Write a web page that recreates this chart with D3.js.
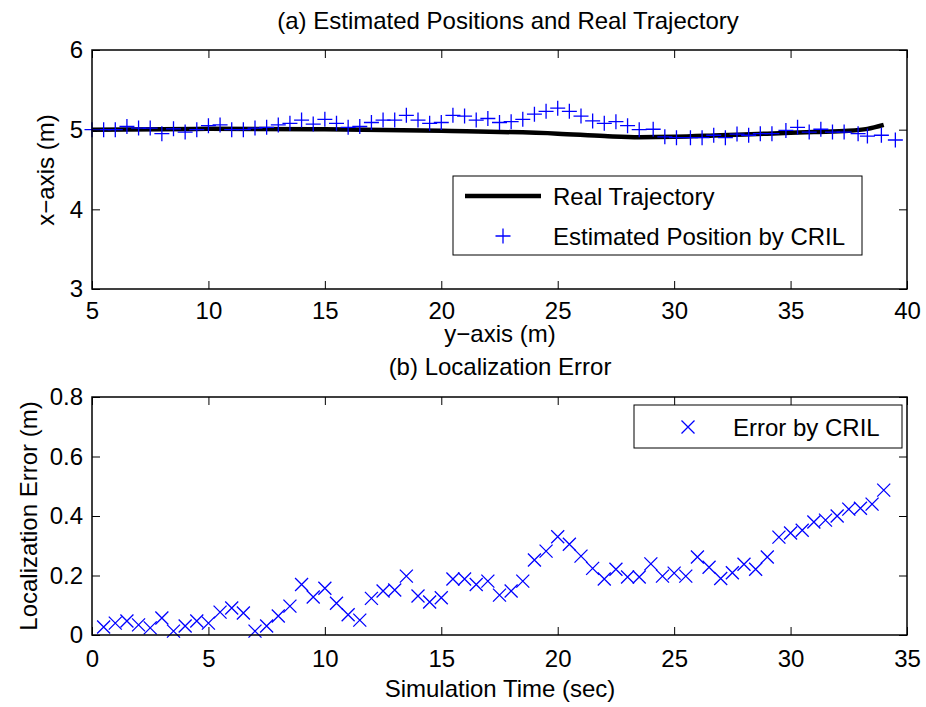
<!DOCTYPE html>
<html><head><meta charset="utf-8">
<script src="https://cdn.jsdelivr.net/npm/d3@7"></script>
<style>body{margin:0;background:#fff}svg{display:block}text{font-family:"Liberation Sans",Arial,sans-serif;fill:#000}</style>
</head><body><svg id="c" width="926" height="707"></svg>
<script>
// Top plot: real trajectory (y-axis position, x-axis position)
const realY = [5, 10, 15, 20, 25, 27, 28.5, 30, 32, 34, 36, 37.5, 38.3, 39];
const realX = [5.0, 5.01, 5.005, 4.985, 4.95, 4.92, 4.905, 4.91, 4.93, 4.95, 4.97, 4.985, 5.01, 5.06];
// Estimated positions by CRIL
const estY = [5.0,5.5,6.0,6.5,7.0,7.5,8.0,8.5,9.0,9.5,10.0,10.5,11.0,11.5,12.0,12.5,13.0,13.5,14.0,14.5,15.0,15.5,16.0,16.5,17.0,17.5,18.0,18.5,19.0,19.5,20.0,20.5,21.0,21.5,22.0,22.5,23.0,23.5,24.0,24.5,25.0,25.5,26.0,26.5,27.0,27.5,28.0,28.5,29.1,29.6,30.1,30.7,31.2,31.7,32.2,32.7,33.2,33.7,34.2,34.8,35.3,35.8,36.3,36.8,37.3,37.9,38.3,38.9,39.5];
const estX = [5.0,5.0,5.0,5.04,5.02,5.02,4.95,5.01,4.97,5.0,5.05,5.06,5.0,5.0,5.02,5.03,5.06,5.08,5.12,5.07,5.13,5.08,5.03,5.04,5.09,5.12,5.12,5.18,5.12,5.08,5.09,5.18,5.17,5.12,5.14,5.09,5.10,5.13,5.195,5.23,5.27,5.23,5.17,5.11,5.08,5.10,5.05,5.0,5.005,4.91,4.90,4.90,4.90,4.93,4.90,4.945,4.93,4.95,4.95,4.99,5.03,4.97,5.005,4.97,4.97,4.95,4.92,4.93,4.87];
// Bottom plot: localization error
const errT = [0.5,1,1.5,2,2.5,3,3.5,4,4.5,5,5.5,6,6.5,7,7.5,8,8.5,9,9.5,10,10.5,11,11.5,12,12.5,13,13.5,14,14.5,15,15.5,16,16.5,17,17.5,18,18.5,19,19.5,20,20.5,21,21.5,22,22.5,23,23.5,24,24.5,25,25.5,26,26.5,27,27.5,28,28.5,29,29.5,30,30.5,31,31.5,32,32.5,33,33.5,34];
const errV = [0.027,0.04,0.047,0.034,0.024,0.057,0.013,0.03,0.047,0.04,0.077,0.091,0.074,0.013,0.03,0.064,0.097,0.17,0.128,0.157,0.107,0.068,0.05,0.123,0.148,0.151,0.198,0.131,0.111,0.125,0.188,0.188,0.17,0.181,0.134,0.148,0.181,0.252,0.282,0.33,0.305,0.265,0.224,0.188,0.221,0.195,0.195,0.239,0.198,0.208,0.198,0.262,0.228,0.19,0.209,0.238,0.221,0.262,0.329,0.343,0.352,0.38,0.386,0.4,0.423,0.426,0.44,0.487];
// Ticks
const topXTicks = [5,10,15,20,25,30,35,40];
const topYTicks = [3,4,5,6];
const botXTicks = [0,5,10,15,20,25,30,35];
const botYTicks = [0,0.2,0.4,0.6,0.8];

const svg = d3.select("#c");
const blue = "#0000ff";
const L = 92, R = 907;
const tick = 8;
const fs = 24;

function frame(g, x, y, xt, yt, fmtY, padB) {
  const [y0, y1] = y.range();
  g.append("g").attr("transform", `translate(0,${y0})`)
    .call(d3.axisBottom(x).tickValues(xt).tickSize(-tick).tickPadding(padB).tickFormat(d3.format("d")))
    .call(a => { a.select(".domain").remove(); a.selectAll("text").style("font-size", fs + "px").attr("font-family", null); });
  g.append("g").attr("transform", `translate(0,${y1})`)
    .call(d3.axisTop(x).tickValues(xt).tickSize(-tick).tickFormat(""))
    .call(a => a.select(".domain").remove());
  g.append("g").attr("transform", `translate(${L},0)`)
    .call(d3.axisLeft(y).tickValues(yt).tickSize(-tick).tickPadding(9).tickFormat(fmtY))
    .call(a => { a.select(".domain").remove(); a.selectAll("text").style("font-size", fs + "px").attr("font-family", null); });
  g.append("g").attr("transform", `translate(${R},0)`)
    .call(d3.axisRight(y).tickValues(yt).tickSize(-tick).tickFormat(""))
    .call(a => a.select(".domain").remove());
  g.selectAll(".tick line").attr("stroke", "#000").attr("stroke-width", 1);
  g.selectAll(".tick text").attr("fill", "#000");
  g.append("rect").attr("x", L).attr("y", y1).attr("width", R - L).attr("height", y0 - y1)
    .attr("fill", "none").attr("stroke", "#000").attr("stroke-width", 1.5);
}

// ---------- Top plot ----------
const xa = d3.scaleLinear().domain([5, 40]).range([L, R]);
const ya = d3.scaleLinear().domain([3, 6]).range([289, 50]);
const g1 = svg.append("g");
const line = d3.line().curve(d3.curveMonotoneX).x((d, i) => xa(realY[i])).y((d, i) => ya(realX[i]));
g1.append("path").datum(realY).attr("d", line).attr("fill", "none").attr("stroke", "#000").attr("stroke-width", 4.5);
const plus = 7.5;
g1.append("g").selectAll("path").data(estY).join("path")
  .attr("d", (d, i) => { const cx = xa(d), cy = ya(estX[i]); return `M${cx - plus},${cy}H${cx + plus}M${cx},${cy - plus}V${cy + plus}`; })
  .attr("stroke", blue).attr("stroke-width", 1.3).attr("fill", "none");
frame(g1, xa, ya, topXTicks, topYTicks, d3.format("d"), 13);

svg.append("text").attr("x", 508).attr("y", 29).attr("text-anchor", "middle").style("font-size", fs + "px").text("(a) Estimated Positions and Real Trajectory");
svg.append("text").attr("transform", "translate(54,170) rotate(-90)").attr("text-anchor", "middle").style("font-size", fs + "px").text("x\u2212axis (m)");
svg.append("text").attr("x", 500).attr("y", 342).attr("text-anchor", "middle").style("font-size", fs + "px").text("y\u2212axis (m)");

// legend top
const lg1 = svg.append("g");
lg1.append("rect").attr("x", 453).attr("y", 176).attr("width", 409).attr("height", 79).attr("fill", "#fff").attr("stroke", "#000").attr("stroke-width", 1);
lg1.append("line").attr("x1", 465).attr("x2", 541).attr("y1", 196).attr("y2", 196).attr("stroke", "#000").attr("stroke-width", 4.5);
lg1.append("text").attr("x", 553).attr("y", 205).style("font-size", fs + "px").text("Real Trajectory");
lg1.append("path").attr("d", `M${503 - plus},236H${503 + plus}M503,${236 - plus}V${236 + plus}`).attr("stroke", blue).attr("stroke-width", 1.3);
lg1.append("text").attr("x", 553).attr("y", 245).style("font-size", fs + "px").text("Estimated Position by CRIL");

// ---------- Bottom plot ----------
const xb = d3.scaleLinear().domain([0, 35]).range([L, R]);
const yb = d3.scaleLinear().domain([0, 0.8]).range([635, 397]);
const g2 = svg.append("g");
const cr = 6.5;
g2.append("g").selectAll("path").data(errT).join("path")
  .attr("d", (d, i) => { const cx = xb(d), cy = yb(errV[i]); return `M${cx - cr},${cy - cr}L${cx + cr},${cy + cr}M${cx - cr},${cy + cr}L${cx + cr},${cy - cr}`; })
  .attr("stroke", blue).attr("stroke-width", 1.3).attr("fill", "none");
frame(g2, xb, yb, botXTicks, botYTicks, d => d === 0 ? "0" : d3.format(".1f")(d), 15);

svg.append("text").attr("x", 500).attr("y", 375).attr("text-anchor", "middle").style("font-size", fs + "px").text("(b) Localization Error");
svg.append("text").attr("transform", "translate(37,516) rotate(-90)").attr("text-anchor", "middle").style("font-size", fs + "px").text("Localization Error (m)");
svg.append("text").attr("x", 500).attr("y", 697).attr("text-anchor", "middle").style("font-size", fs + "px").text("Simulation Time (sec)");

const lg2 = svg.append("g");
lg2.append("rect").attr("x", 634).attr("y", 405).attr("width", 268).attr("height", 43).attr("fill", "#fff").attr("stroke", "#000").attr("stroke-width", 1);
lg2.append("path").attr("d", `M${688 - cr},${427 - cr}L${688 + cr},${427 + cr}M${688 - cr},${427 + cr}L${688 + cr},${427 - cr}`).attr("stroke", blue).attr("stroke-width", 1.3);
lg2.append("text").attr("x", 733).attr("y", 436).style("font-size", fs + "px").text("Error by CRIL");
</script></body></html>
